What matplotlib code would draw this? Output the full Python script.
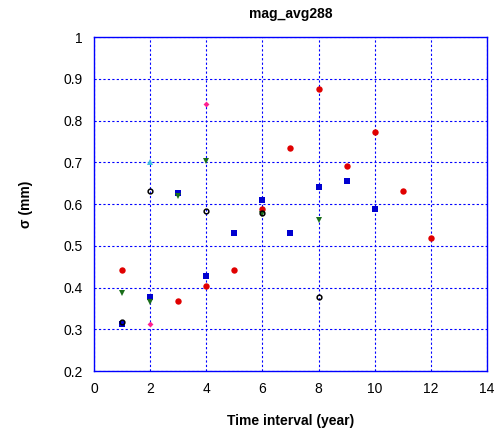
import matplotlib
matplotlib.use('Agg')
import matplotlib.pyplot as plt

plt.rcParams['font.family'] = ['Liberation Sans', 'DejaVu Sans']

# 各组散点数据
red_x = [1, 3, 4, 5, 6, 7, 8, 9, 10, 11, 12]
red_y = [0.443, 0.369, 0.405, 0.442, 0.589, 0.734, 0.875, 0.692, 0.772, 0.632, 0.518]

blue_x = [1, 2, 3, 4, 5, 6, 7, 8, 9, 10]
blue_y = [0.314, 0.377, 0.627, 0.427, 0.531, 0.610, 0.530, 0.640, 0.656, 0.589]

green_x = [1, 2, 3, 4, 6, 8]
green_y = [0.388, 0.366, 0.619, 0.703, 0.577, 0.561]

black_x = [1, 2, 4, 6, 8]
black_y = [0.318, 0.632, 0.584, 0.578, 0.378]

cyan_x = [2]
cyan_y = [0.700]

pink_x = [2, 4]
pink_y = [0.314, 0.840]

fig = plt.figure(figsize=(4.97, 4.32), dpi=100)
ax = fig.add_axes([0.189, 0.141, 0.791, 0.773])

ax.plot(red_x, red_y, 'o', color='#e00000', markersize=4.6, markeredgewidth=0, zorder=3)
ax.plot(blue_x, blue_y, 's', color='#0000d0', markersize=4.6, markeredgewidth=0, zorder=3)
ax.plot(green_x, green_y, 'v', color='#1a6e1a', markersize=4.5, markeredgewidth=0, zorder=4)
ax.plot(black_x, black_y, 'o', markerfacecolor='none', markeredgecolor='black',
        markersize=3.4, markeredgewidth=1.1, zorder=5)
ax.plot(cyan_x, cyan_y, '^', color='#40c0e0', markersize=4, markeredgewidth=0, zorder=4)
ax.plot(pink_x, pink_y, 'D', color='#ff2090', markersize=3, markeredgewidth=0, zorder=4)

ax.set_xlim(0, 14)
ax.set_ylim(0.2, 1.0)
ax.set_xticks(range(0, 15, 2))
ax.set_yticks([0.2, 0.3, 0.4, 0.5, 0.6, 0.7, 0.8, 0.9, 1.0])
ax.set_yticklabels(['0.2', '0.3', '0.4', '0.5', '0.6', '0.7', '0.8', '0.9', '1'])

# 蓝色虚线网格和边框
ax.grid(True, color='#0000ff', linestyle=(0, (2, 2)), linewidth=0.8)
ax.set_axisbelow(True)
for s in ax.spines.values():
    s.set_color('#0000ff')
    s.set_linewidth(1.0)
ax.tick_params(length=0, labelsize=10, pad=8)

ax.set_title('mag_avg288', fontsize=10, fontweight='bold', pad=14)
ax.set_xlabel('Time interval (year)', fontsize=10, fontweight='bold', labelpad=13)
ax.set_ylabel('σ (mm)', fontsize=10, fontweight='bold', labelpad=22)

fig.savefig('out.png', dpi=100, facecolor='white')
